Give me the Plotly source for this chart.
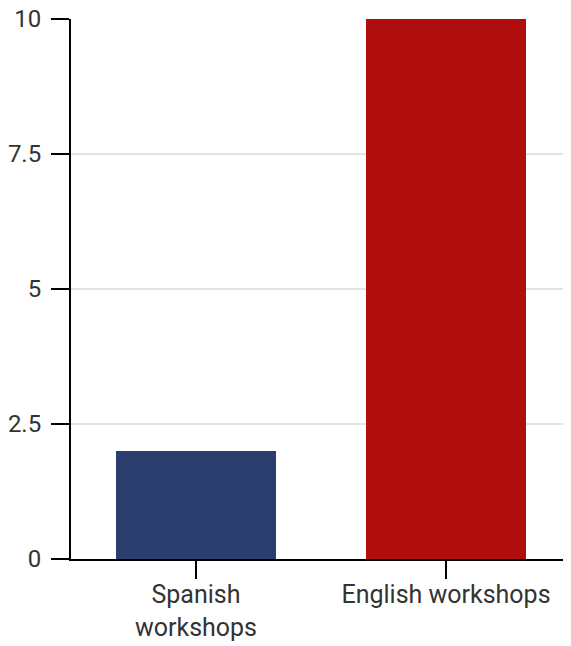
import plotly.graph_objects as go

categories = ["Spanish<br>workshops", "English workshops"]
values = [2, 10]
colors = ["#2c3e6e", "#b00d0e"]
y_ticks = [0, 2.5, 5, 7.5, 10]
y_tick_labels = ["0", "2.5", "5", "7.5", "10"]

fig = go.Figure(go.Bar(x=categories, y=values, marker=dict(color=colors, line=dict(width=0))))

fig.update_layout(
    width=571, height=646,
    margin=dict(l=63, r=8, t=11, b=95),
    plot_bgcolor="white", paper_bgcolor="white",
    bargap=0.36,
    showlegend=False,
    font=dict(family="Roboto", size=25, color="#333333"),
)
fig.update_xaxes(
    showline=True, linecolor="black", linewidth=2,
    ticks="outside", ticklen=18, tickwidth=2, tickcolor="black",
    showgrid=False, ticklabelstandoff=-6, automargin=False,
    ticklabeloverflow="allow",
)
fig.update_yaxes(
    range=[0, 10], tickvals=y_ticks, ticktext=y_tick_labels,
    showline=True, linecolor="black", linewidth=2,
    ticks="outside", ticklen=18, tickwidth=2, tickcolor="black",
    showgrid=True, gridcolor="#e3e3e3", gridwidth=1.5,
    zeroline=False, ticklabelstandoff=5, automargin=False,
    ticklabeloverflow="allow", tickfont=dict(size=24),
)

fig.write_html("out.html")
